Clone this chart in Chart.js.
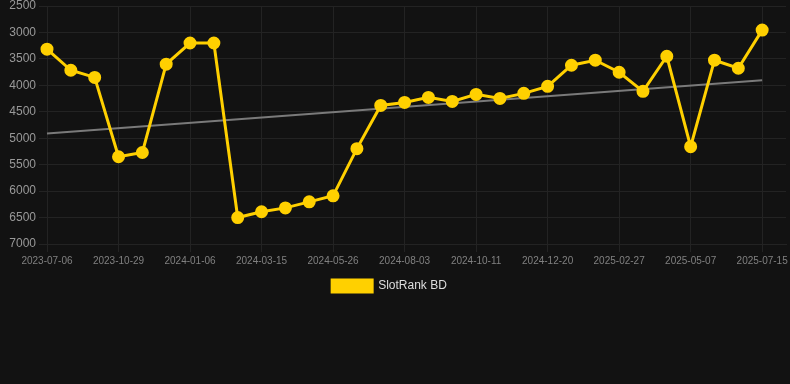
<!DOCTYPE html>
<html>
<head>
<meta charset="utf-8">
<script src="https://cdn.jsdelivr.net/npm/chart.js@4"></script>
<style>
  html, body { margin: 0; padding: 0; background: #121212; }
  #wrap { position: relative; width: 790px; height: 302px; }
</style>
</head>
<body>
<div id="wrap"><canvas id="rankChart"></canvas></div>
<script>
// dates (the trailing empty label leaves room on the right like the original)
const dates = [
    "2023-07-06", "2023-08-14", "2023-09-21", "2023-10-29", "2023-11-21", "2023-12-14",
    "2024-01-06", "2024-01-29", "2024-02-21", "2024-03-15", "2024-04-07", "2024-05-01",
    "2024-05-26", "2024-06-18", "2024-07-11", "2024-08-03", "2024-08-26", "2024-09-18",
    "2024-10-11", "2024-11-03", "2024-11-27", "2024-12-20", "2025-01-12", "2025-02-04",
    "2025-02-27", "2025-03-22", "2025-04-14", "2025-05-07", "2025-05-30", "2025-06-22",
    "2025-07-15", ""
];

// rank values
const rankBD = [
    3316, 3715, 3850, 5350, 5270, 3600,
    3200, 3200, 6500, 6390, 6317, 6203,
    6089, 5197, 4380, 4323, 4228, 4304,
    4171, 4247, 4152, 4019, 3620, 3525,
    3753, 4114, 3450, 5159, 3525, 3677,
    2956
];

// trend line: only its two ends, joined straight
const trend = [4912];
for (let i = 1; i < 30; i++) trend.push(null);
trend.push(3905);

const yTicks = [2500, 3000, 3500, 4000, 4500, 5000, 5500, 6000, 6500, 7000];

const gridColor = '#232323';

// nudge the legend a little left, as in the original
const legendShift = {
    id: 'legendShift',
    afterUpdate(chart) {
        if (!chart.legend) return;
        chart.legend.right -= 11;
        chart.legend.adjustHitBoxes();
    }
};

const ctx = document.getElementById('rankChart').getContext('2d');
const rankChart = new Chart(ctx, {
    type: 'line',
    data: {
        labels: dates,
        datasets: [
            {
                label: 'SlotRank BD',
                data: rankBD,
                borderColor: '#FFD000',
                backgroundColor: '#FFD000',
                borderWidth: 3,
                pointRadius: 5,
                pointHoverRadius: 6,
                tension: 0
            },
            {
                label: 'trend',
                data: trend,
                borderColor: '#7a7a7a',
                borderWidth: 2,
                pointRadius: 0,
                spanGaps: true
            }
        ]
    },
    options: {
        responsive: true,
        maintainAspectRatio: false,
        animation: false,
        layout: { padding: 0, autoPadding: false },
        scales: {
            x: {
                offset: false,
                afterFit: s => { s.paddingRight = 4; },
                grid: {
                    color: c => (c.index % 3 === 0 && c.index <= 30) ? gridColor : 'transparent',
                    tickLength: 8
                },
                border: { color: gridColor },
                ticks: {
                    autoSkip: false,
                    maxRotation: 0,
                    color: '#808080',
                    font: { size: 10 },
                    callback: function (v, i) {
                        return (i % 3 === 0 && i <= 30) ? dates[i] : '';
                    }
                }
            },
            y: {
                reverse: true,
                min: yTicks[0],
                max: yTicks[yTicks.length - 1],
                afterFit: s => { s.width = 47; s.paddingTop = 6; },
                grid: { color: gridColor, tickLength: 8 },
                border: { color: gridColor },
                afterBuildTicks: axis => { axis.ticks = yTicks.map(v => ({ value: v })); },
                ticks: {
                    color: '#999999',
                    font: { size: 12 },
                    padding: 3,
                    callback: v => String(v)
                }
            }
        },
        plugins: {
            legend: {
                position: 'bottom',
                labels: {
                    color: '#dddddd',
                    font: { size: 12 },
                    boxWidth: 40,
                    filter: item => item.text !== 'trend'
                }
            },
            tooltip: { enabled: false }
        }
    },
    plugins: [legendShift]
});
</script>
</body>
</html>
